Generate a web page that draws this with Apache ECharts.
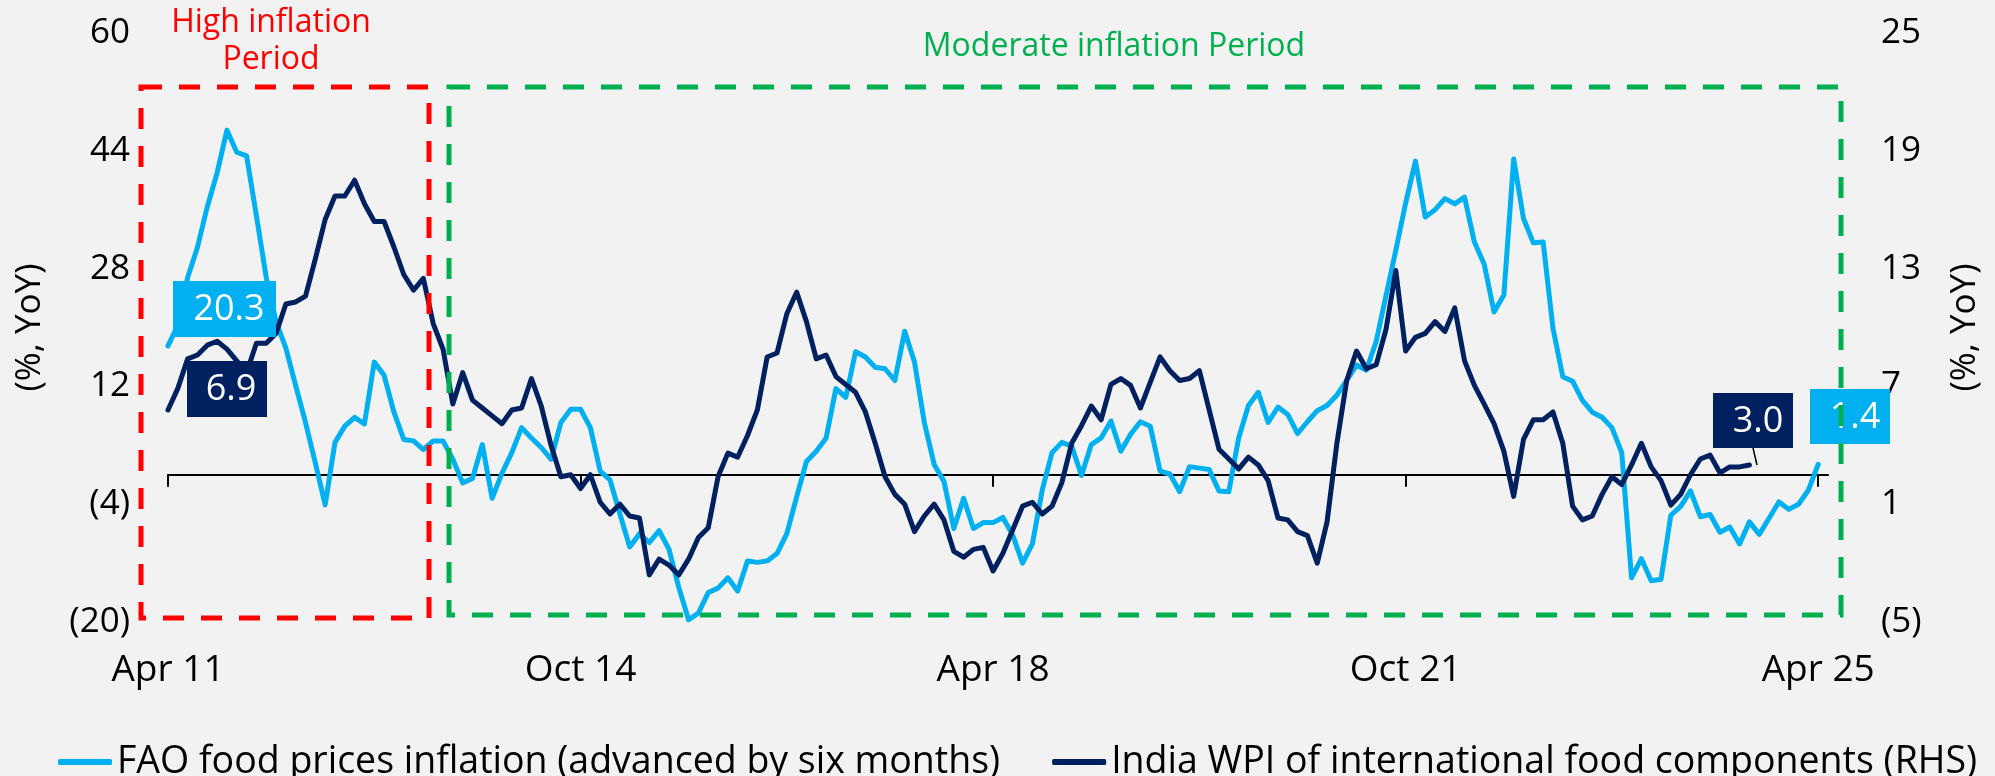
<!DOCTYPE html>
<html>
<head>
<meta charset="utf-8">
<title>FAO food prices vs India WPI</title>
<script src="https://cdn.jsdelivr.net/npm/echarts@6/dist/echarts.min.js"></script>
<style>
  html, body { margin: 0; padding: 0; background: #f2f2f2; }
  #chart { width: 1995px; height: 776px; }
</style>
</head>
<body>
<div id="chart"></div>
<script>
// monthly categories, Apr 11 .. May 25
const monthNames = ['Jan', 'Feb', 'Mar', 'Apr', 'May', 'Jun', 'Jul', 'Aug', 'Sep', 'Oct', 'Nov', 'Dec'];
const categories = [];
for (let k = 0; k < 170; k++) {
  categories.push(monthNames[(3 + k) % 12] + ' ' + (11 + Math.floor((3 + k) / 12)));
}

const leftTicks = [-20, -4, 12, 28, 44, 60];
const rightTicks = [-5, 1, 7, 13, 19, 25];

// FAO food prices inflation (advanced by six months), % YoY, left axis
const faoInflation = [
  17.5, 20.3, 26.8, 30.9, 36.4, 41.0, 46.8, 43.8, 43.3, 35.2,
  26.8, 20.8, 17.2, 12.1, 7.1, 1.6, -4.1, 4.4, 6.6, 7.8,
  6.9, 15.3, 13.5, 8.5, 4.8, 4.6, 3.4, 4.6, 4.6, 2.1,
  -1.1, -0.5, 4.1, -3.2, 0.2, 3.0, 6.4, 5.0, 3.7, 2.1,
  7.1, 8.9, 8.9, 6.4, 0.5, -0.7, -5.3, -9.8, -8.0, -9.2,
  -7.6, -10.1, -15.3, -19.7, -18.8, -16.0, -15.4, -14.0, -15.8, -11.7,
  -11.9, -11.7, -10.7, -8.0, -3.0, 1.8, 3.2, 5.0, 11.7, 10.5,
  16.7, 16.0, 14.6, 14.4, 12.8, 19.5, 15.3, 7.1, 1.4, -0.9,
  -7.3, -3.2, -7.3, -6.5, -6.5, -5.8, -8.2, -12.0, -9.4, -2.1,
  3.0, 4.4, 3.9, -0.1, 4.1, 5.0, 7.3, 3.2, 5.5, 7.2,
  6.6, 0.5, 0.1, -2.3, 1.1, 0.9, 0.7, -2.2, -2.3, 5.0,
  9.4, 11.2, 7.1, 9.2, 8.2, 5.6, 7.2, 8.7, 9.4, 10.8,
  12.8, 14.9, 14.2, 18.1, 24.3, 30.5, 36.9, 42.6, 35.0, 36.0,
  37.5, 36.8, 37.7, 31.6, 28.6, 22.1, 24.4, 42.9, 34.8, 31.5,
  31.6, 19.9, 13.3, 12.7, 10.1, 8.5, 7.8, 6.4, 3.0, -14.0,
  -11.4, -14.4, -14.2, -5.5, -4.3, -2.2, -5.7, -5.4, -7.8, -7.1,
  -9.4, -6.4, -8.1, -5.9, -3.7, -4.7, -4.0, -2.1, 1.4
];

// India WPI of international food components, % YoY, right axis
const indiaWpi = [
  5.8, 6.9, 8.4, 8.6, 9.1, 9.3, 8.9, 8.3, 7.7, 9.2,
  9.2, 9.7, 11.2, 11.3, 11.6, 13.5, 15.5, 16.7, 16.7, 17.5,
  16.3, 15.4, 15.4, 14.1, 12.7, 11.9, 12.5, 10.2, 8.9, 6.1,
  7.7, 6.3, 5.9, 5.5, 5.1, 5.8, 5.9, 7.4, 6.0, 4.0,
  2.4, 2.5, 1.8, 2.5, 1.1, 0.5, 1.0, 0.4, 0.3, -2.6,
  -1.8, -2.1, -2.6, -1.8, -0.7, -0.2, 2.4, 3.6, 3.4, 4.5,
  5.8, 8.5, 8.7, 10.7, 11.8, 10.3, 8.4, 8.6, 7.5, 7.1,
  6.7, 5.7, 4.1, 2.4, 1.5, 1.0, -0.4, 0.4, 1.0, 0.2,
  -1.4, -1.7, -1.3, -1.2, -2.4, -1.5, -0.3, 0.9, 1.1, 0.5,
  0.9, 2.1, 4.1, 5.0, 6.0, 5.3, 7.1, 7.4, 7.05, 5.9,
  7.2, 8.5, 7.8, 7.3, 7.4, 7.8, 5.8, 3.8, 3.3, 2.8,
  3.4, 3.0, 2.2, 0.3, 0.2, -0.4, -0.6, -2.0, 0.1, 4.1,
  7.3, 8.8, 7.9, 8.1, 9.9, 12.9, 8.8, 9.5, 9.7, 10.3,
  9.8, 11.0, 8.3, 7.05, 6.1, 5.1, 3.7, 1.4, 4.3, 5.3,
  5.3, 5.7, 4.1, 0.9, 0.2, 0.4, 1.5, 2.4, 2.0, 3.0,
  4.1, 2.9, 2.2, 0.95, 1.5, 2.5, 3.3, 3.5, 2.6, 2.9,
  2.9, 3.0
];

const faoName = 'FAO food prices inflation (advanced by six months)';
const wpiName = 'India WPI of international food components (RHS)';

const lightBlue = '#00B0F0';
const navy = '#002060';
const red = '#FF0000';
const green = '#00B050';
const font = '"Open Sans", Lato, sans-serif';

function fmt(v) {
  return v < 0 ? '(' + (-v) + ')' : String(v);
}

const chart = echarts.init(document.getElementById('chart'));

const option = {
  backgroundColor: '#f2f2f2',
  animation: false,
  textStyle: { fontFamily: font },
  grid: { left: 168, right: 167, top: 33, bottom: 154, containLabel: false },
  legend: {
    left: 53,
    top: 738,
    itemWidth: 54,
    itemHeight: 6,
    itemGap: 52,
    icon: 'roundRect',
    textStyle: { fontSize: 37.5, color: '#000', fontFamily: font },
    data: [faoName, wpiName]
  },
  xAxis: [
    {
      type: 'category',
      data: categories,
      boundaryGap: false,
      position: 'bottom',
      axisLine: { onZero: true, lineStyle: { color: '#000', width: 2 } },
      axisTick: { show: true, interval: 41, length: 12, lineStyle: { color: '#000', width: 2 } },
      axisLabel: { show: false },
      splitLine: { show: false }
    },
    {
      type: 'category',
      data: categories,
      boundaryGap: false,
      position: 'bottom',
      axisLine: { show: false, onZero: false },
      axisTick: { show: false },
      axisLabel: { interval: 41, margin: 30, fontSize: 37, color: '#000', fontFamily: font },
      splitLine: { show: false }
    }
  ],
  yAxis: [
    {
      type: 'value',
      min: leftTicks[0],
      max: leftTicks[leftTicks.length - 1],
      name: '(%, YoY)',
      nameLocation: 'middle',
      nameRotate: 90,
      nameGap: 120,
      nameTextStyle: { fontSize: 35, color: '#000', fontFamily: font },
      axisLine: { show: false },
      axisTick: { show: false },
      splitLine: { show: false },
      axisLabel: {
        customValues: leftTicks,
        margin: 38,
        fontSize: 35,
        color: '#000',
        fontFamily: font,
        formatter: fmt
      }
    },
    {
      type: 'value',
      min: rightTicks[0],
      max: rightTicks[rightTicks.length - 1],
      position: 'right',
      name: '(%, YoY)',
      nameLocation: 'middle',
      nameRotate: 90,
      nameGap: 120,
      nameTextStyle: { fontSize: 35, color: '#000', fontFamily: font },
      axisLine: { show: false },
      axisTick: { show: false },
      splitLine: { show: false },
      axisLabel: {
        customValues: rightTicks,
        margin: 53,
        fontSize: 35,
        color: '#000',
        fontFamily: font,
        formatter: fmt
      }
    }
  ],
  series: [
    {
      name: faoName,
      type: 'line',
      yAxisIndex: 0,
      data: faoInflation,
      symbol: 'none',
      color: lightBlue,
      lineStyle: { color: lightBlue, width: 5, join: 'round', cap: 'round' }
    },
    {
      name: wpiName,
      type: 'line',
      yAxisIndex: 1,
      data: indiaWpi,
      symbol: 'none',
      color: navy,
      lineStyle: { color: navy, width: 5, join: 'round', cap: 'round' }
    }
  ],
  graphic: [
    // value call-outs
    { type: 'rect', z: 100, shape: { x: 173, y: 281, width: 103, height: 56 }, style: { fill: lightBlue } },
    { type: 'text', z: 101, style: { x: 229, y: 310, text: faoInflation[1].toFixed(1), fill: '#fff', font: '36px ' + font, textAlign: 'center', textVerticalAlign: 'middle' } },
    { type: 'rect', z: 100, shape: { x: 187, y: 361, width: 80, height: 56 }, style: { fill: navy } },
    { type: 'text', z: 101, style: { x: 231, y: 390, text: indiaWpi[1].toFixed(1), fill: '#fff', font: '36px ' + font, textAlign: 'center', textVerticalAlign: 'middle' } },
    { type: 'line', z: 100, shape: { x1: 1753, y1: 448, x2: 1757, y2: 465 }, style: { stroke: '#000', lineWidth: 1.5 } },
    { type: 'rect', z: 100, shape: { x: 1713, y: 393, width: 80, height: 55 }, style: { fill: navy } },
    { type: 'text', z: 101, style: { x: 1758, y: 422, text: indiaWpi[indiaWpi.length - 1].toFixed(1), fill: '#fff', font: '36px ' + font, textAlign: 'center', textVerticalAlign: 'middle' } },
    { type: 'rect', z: 100, shape: { x: 1810, y: 389, width: 80, height: 55 }, style: { fill: lightBlue } },
    { type: 'text', z: 101, style: { x: 1855, y: 418, text: faoInflation[faoInflation.length - 1].toFixed(1), fill: '#fff', font: '36px ' + font, textAlign: 'center', textVerticalAlign: 'middle' } },
    // period boxes
    { type: 'rect', z: 110, shape: { x: 141, y: 87, width: 288, height: 531 }, style: { fill: 'none', stroke: red, lineWidth: 5, lineDash: [21, 17] } },
    { type: 'rect', z: 110, shape: { x: 449, y: 87, width: 1392, height: 528 }, style: { fill: 'none', stroke: green, lineWidth: 5, lineDash: [21, 17] } },
    { type: 'text', z: 110, style: { x: 271, y: 41, text: 'High inflation\nPeriod', fill: red, font: '32px ' + font, lineHeight: 37, textAlign: 'center', textVerticalAlign: 'middle' } },
    { type: 'text', z: 110, style: { x: 1114, y: 47, text: 'Moderate inflation Period', fill: green, font: '32px ' + font, textAlign: 'center', textVerticalAlign: 'middle' } }
  ]
};

chart.setOption(option);
</script>
</body>
</html>
